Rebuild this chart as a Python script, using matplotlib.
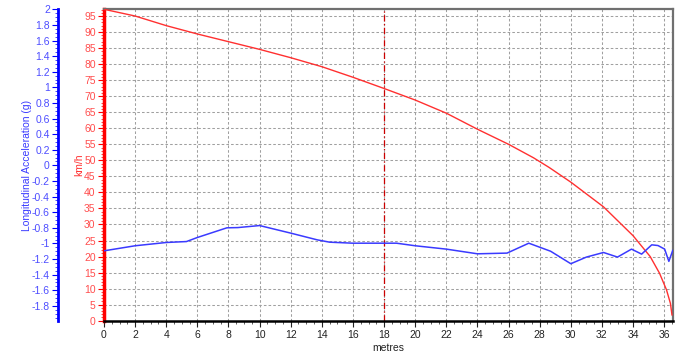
import matplotlib
matplotlib.use("Agg")
import matplotlib.pyplot as plt
from matplotlib.ticker import MultipleLocator, FuncFormatter

plt.rcParams['font.family'] = ['Liberation Sans', 'DejaVu Sans']
plt.rcParams['axes.unicode_minus'] = False

# speed trace (km/h) vs distance (m)
speed_x = [0, 2, 4, 6, 8, 10, 12, 14, 16, 18, 20, 22, 24, 26, 27.6, 28.6, 30,
           32.1, 34, 35.1, 35.7, 36.15, 36.4, 36.5]
speed_v = [97.1, 95.0, 92.0, 89.4, 87.0, 84.6, 82.0, 79.2, 75.9, 72.4, 68.8, 64.7,
           59.7, 55.0, 50.8, 47.8, 43.2, 35.5, 26.5, 20.0, 14.8, 9.6, 5.4, 1.8]

# longitudinal acceleration (g) vs distance (m)
acc_x = [0, 2, 4, 5.3, 6, 7.9, 8.6, 10, 12, 13.7, 14.5, 16, 18.8, 20, 22, 24, 25.9,
         27.3, 28.7, 30, 31, 32.1, 33, 33.9, 34.55, 35.2, 35.6, 36.03, 36.3, 36.55]
acc_g = [-1.095, -1.03, -0.988, -0.976, -0.924, -0.80, -0.797, -0.771, -0.868, -0.954,
         -0.984, -0.997, -0.997, -1.03, -1.073, -1.133, -1.124, -0.997, -1.10, -1.26,
         -1.175, -1.116, -1.175, -1.073, -1.137, -1.018, -1.027, -1.073, -1.23, -1.09]

cursor_x = 18

fig = plt.figure(figsize=(6.9, 3.57), dpi=100)
ax = fig.add_axes([0.1507, 0.1017, 0.975 - 0.1507, 0.974 - 0.1017])

ax.plot(speed_x, speed_v, color='#ff3030', lw=1.0, zorder=3)
ax.axvline(cursor_x, color='#cc0000', lw=0.9, ls=(0, (5, 2, 1, 2)), zorder=2)

ax.set_xlim(0, 36.55)
ax.set_ylim(0, 97.1)
ax.xaxis.set_major_locator(MultipleLocator(2))
ax.xaxis.set_minor_locator(MultipleLocator(0.5))
ax.yaxis.set_major_locator(MultipleLocator(5))
ax.yaxis.set_minor_locator(MultipleLocator(1))
ax.grid(True, which='major', color='#a0a0a0', ls=(0, (2.5, 2)), lw=0.75)

ax.tick_params(axis='x', which='major', length=4, width=0.8, labelsize=7.5,
               colors='#222222', pad=3)
ax.tick_params(axis='x', which='minor', length=2, width=0.6, color='#444444')
ax.tick_params(axis='y', which='major', length=4, width=0.8, color='red',
               labelsize=7.5, labelcolor='#ff4d4d', pad=2)
ax.tick_params(axis='y', which='minor', length=2, width=0.5, color='red')

ax.spines['left'].set_color('red')
ax.spines['left'].set_linewidth(2.5)
ax.spines['bottom'].set_color('black')
ax.spines['bottom'].set_linewidth(1.8)
ax.spines['top'].set_color('#707070')
ax.spines['top'].set_linewidth(1.6)
ax.spines['right'].set_color('#707070')
ax.spines['right'].set_linewidth(1.6)

ax.set_xlabel('metres', fontsize=7.5, color='#222222', labelpad=2)
ax.set_ylabel('km/h', fontsize=7.5, color='#ff3030', labelpad=0)

# acceleration axis, drawn as a second spine left of the speed axis
ax2 = ax.twinx()
ax2.plot(acc_x, acc_g, color='#3a3aff', lw=1.1, zorder=4)
ax2.set_ylim(-1.99, 2)
ax2.yaxis.tick_left()
ax2.yaxis.set_label_position('left')
ax2.spines['left'].set_position(('outward', 33))
ax2.spines['left'].set_color('blue')
ax2.spines['left'].set_linewidth(2)
for s in ['right', 'top', 'bottom']:
    ax2.spines[s].set_visible(False)
ax2.yaxis.set_major_locator(MultipleLocator(0.2))
ax2.yaxis.set_minor_locator(MultipleLocator(0.05))
ax2.yaxis.set_major_formatter(FuncFormatter(lambda v, p: '%g' % round(v, 1)))
ax2.tick_params(axis='y', which='major', length=4, width=0.8, color='blue',
                labelsize=7.5, labelcolor='#4d4dff', pad=2)
ax2.tick_params(axis='y', which='minor', length=2, width=0.5, color='blue')
ax2.set_ylabel('Longitudinal Acceleration (g)', fontsize=7.5, color='#3a3aff',
               labelpad=0)

fig.savefig('out.png', dpi=100)
